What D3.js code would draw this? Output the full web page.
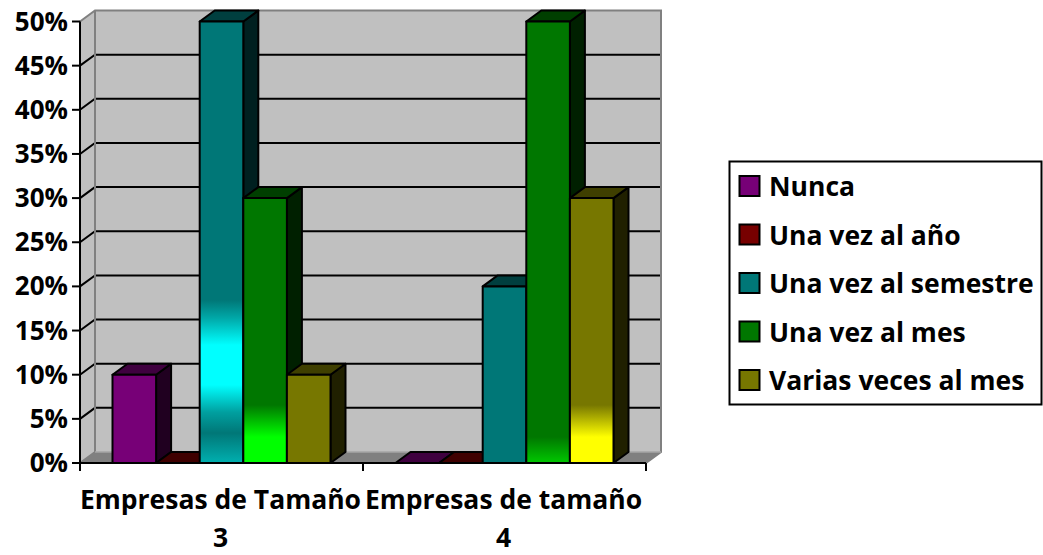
<!DOCTYPE html>
<html>
<head>
<meta charset="utf-8">
<script src="https://cdnjs.cloudflare.com/ajax/libs/d3/7.8.5/d3.min.js"></script>
<style>
  html, body { margin: 0; padding: 0; background: #fff; }
  svg { display: block; }
  text { font-family: "Open Sans", Lato, sans-serif; font-weight: 700; fill: #000; }
</style>
</head>
<body>
<svg id="chart" width="1043" height="555"></svg>
<script>
const categories = [["Empresas de Tamaño", "3"], ["Empresas de tamaño", "4"]];
const seriesNames = ["Nunca", "Una vez al año", "Una vez al semestre", "Una vez al mes", "Varias veces al mes"];
const group3Values = [10, 0, 50, 30, 10];
const group4Values = [0, 0, 20, 50, 30];
const yTicks = [0, 5, 10, 15, 20, 25, 30, 35, 40, 45, 50];

const frontColors = ["#770077", "#770000", "#007777", "#007700", "#777700"];
const topColors = ["#3f003f", "#3f0000", "#003f3f", "#003f00", "#3f3f00"];
const sideColors = ["#200020", "#200000", "#002020", "#002000", "#202000"];

const dx = 15, dy = 11;
const plotLeft = 80, plotRight = 646, plotBottom = 463, plotTop = 21.5;

const svg = d3.select("#chart");

const x0 = d3.scaleBand().domain([0, 1]).range([plotLeft, plotRight]);
const x1 = d3.scaleBand().domain(d3.range(seriesNames.length))
    .range([32.5, x0.bandwidth() - 32.5]);
const y = d3.scaleLinear().domain([0, 50]).range([plotBottom, plotTop]);

// gradients seen on some of the bars, stops are y positions in the bar
const defs = svg.append("defs");
function gradient(id, stops) {
    const g = defs.append("linearGradient").attr("id", id)
        .attr("gradientUnits", "userSpaceOnUse")
        .attr("x1", 0).attr("x2", 0).attr("y1", plotTop).attr("y2", plotBottom);
    stops.forEach(s => g.append("stop")
        .attr("offset", (s[0] - plotTop) / (plotBottom - plotTop))
        .attr("stop-color", s[1]));
    return `url(#${id})`;
}
const fills = {
    "0-2": gradient("g-semestre", [[plotTop, "#007777"], [300, "#007777"], [318, "#00a8a8"], [345, "#00ffff"], [385, "#00ffff"], [412, "#00a0a0"], [433, "#007777"], [463, "#00b0b0"]]),
    "0-3": gradient("g-mes1", [[plotTop, "#007700"], [405, "#007700"], [437, "#00ff00"], [plotBottom, "#00ff00"]]),
    "1-3": gradient("g-mes2", [[plotTop, "#007700"], [437, "#007700"], [plotBottom, "#00c800"]]),
    "1-4": gradient("g-varias", [[plotTop, "#777700"], [405, "#777700"], [437, "#ffff00"], [plotBottom, "#ffff00"]])
};

// walls and floor
const poly = pts => pts.map(p => p.join(",")).join(" ");
svg.append("polygon")
    .attr("points", poly([[plotLeft, plotBottom], [plotLeft + dx, plotBottom - dy], [plotLeft + dx, plotTop - dy], [plotLeft, plotTop]]))
    .attr("fill", "#c0c0c0");
svg.append("polygon")
    .attr("points", poly([[plotLeft, plotBottom], [plotRight, plotBottom], [plotRight + dx, plotBottom - dy], [plotLeft + dx, plotBottom - dy]]))
    .attr("fill", "#808080");
svg.append("rect")
    .attr("x", plotLeft + dx).attr("y", plotTop - dy)
    .attr("width", plotRight - plotLeft).attr("height", plotBottom - plotTop)
    .attr("fill", "#c0c0c0");

// gridlines on back wall + side wall
yTicks.filter(t => t > 0 && t < 50).forEach(t => {
    svg.append("polyline")
        .attr("points", poly([[plotLeft, y(t)], [plotLeft + dx, y(t) - dy], [plotRight + dx, y(t) - dy]]))
        .attr("fill", "none").attr("stroke", "#000").attr("stroke-width", 2);
});

// wall borders
svg.append("polyline")
    .attr("points", poly([[plotLeft, plotTop], [plotLeft + dx, plotTop - dy], [plotRight + dx, plotTop - dy], [plotRight + dx, plotBottom - dy], [plotRight, plotBottom]]))
    .attr("fill", "none").attr("stroke", "#808080").attr("stroke-width", 2);
svg.append("polyline")
    .attr("points", poly([[plotLeft + dx, plotTop - dy], [plotLeft + dx, plotBottom - dy], [plotLeft, plotBottom]]))
    .attr("fill", "none").attr("stroke", "#808080").attr("stroke-width", 2);
svg.append("line")
    .attr("x1", plotLeft + dx).attr("x2", plotRight + dx).attr("y1", plotBottom - dy).attr("y2", plotBottom - dy)
    .attr("stroke", "#a6a6a6").attr("stroke-width", 1.5);

// bars, left to right so the next bar covers the side of the one before
[group3Values, group4Values].forEach((vals, g) => {
    vals.forEach((v, s) => {
        const xa = x0(g) + x1(s), xb = xa + x1.bandwidth();
        const yt = y(v);
        const bar = svg.append("g")
            .attr("stroke", "#000").attr("stroke-width", 2).attr("stroke-linejoin", "round");
        bar.append("polygon")
            .attr("points", poly([[xb, yt], [xb + dx, yt - dy], [xb + dx, plotBottom - dy], [xb, plotBottom]]))
            .attr("fill", sideColors[s]);
        bar.append("polygon")
            .attr("points", poly([[xa, yt], [xa + dx, yt - dy], [xb + dx, yt - dy], [xb, yt]]))
            .attr("fill", topColors[s]);
        if (v > 0) {
            bar.append("rect")
                .attr("x", xa).attr("y", yt)
                .attr("width", xb - xa).attr("height", plotBottom - yt)
                .attr("fill", fills[g + "-" + s] || frontColors[s]);
        }
    });
});

// axes
const yAxis = svg.append("g").attr("stroke", "#000").attr("stroke-width", 2);
yAxis.append("line").attr("x1", plotLeft).attr("x2", plotLeft).attr("y1", plotTop).attr("y2", plotBottom + 8);
yTicks.forEach(t => {
    yAxis.append("line").attr("x1", plotLeft - 8).attr("x2", plotLeft).attr("y1", y(t)).attr("y2", y(t));
});
svg.selectAll(".ylab").data(yTicks).join("text")
    .attr("class", "ylab")
    .attr("x", 68).attr("y", d => y(d) + 9)
    .attr("text-anchor", "end").attr("font-size", 26)
    .text(d => d + "%");

const xAxis = svg.append("g").attr("stroke", "#000").attr("stroke-width", 2);
xAxis.append("line").attr("x1", plotLeft - 8).attr("x2", plotRight).attr("y1", plotBottom).attr("y2", plotBottom);
[0, 1, 2].forEach(i => {
    const px = plotLeft + i * x0.step();
    xAxis.append("line").attr("x1", px).attr("x2", px).attr("y1", plotBottom).attr("y2", plotBottom + 8);
});
categories.forEach((c, i) => {
    const cx = x0(i) + x0.bandwidth() / 2 - 1;
    c.forEach((line, k) => {
        svg.append("text")
            .attr("x", cx).attr("y", 509 + k * 38)
            .attr("text-anchor", "middle").attr("font-size", 26.5)
            .text(line);
    });
});

// legend
const legend = svg.append("g");
legend.append("rect")
    .attr("x", 729.5).attr("y", 161.5).attr("width", 312).attr("height", 243)
    .attr("fill", "#fff").attr("stroke", "#000").attr("stroke-width", 2);
const legendY = d3.scalePoint().domain(d3.range(seriesNames.length)).range([187, 381]);
seriesNames.forEach((name, i) => {
    legend.append("rect")
        .attr("x", 739.5).attr("y", legendY(i) - 11)
        .attr("width", 20).attr("height", 20)
        .attr("fill", frontColors[i]).attr("stroke", "#000").attr("stroke-width", 2);
    legend.append("text")
        .attr("x", 769).attr("y", legendY(i) + 9)
        .attr("font-size", 26.5)
        .text(name);
});
</script>
</body>
</html>
